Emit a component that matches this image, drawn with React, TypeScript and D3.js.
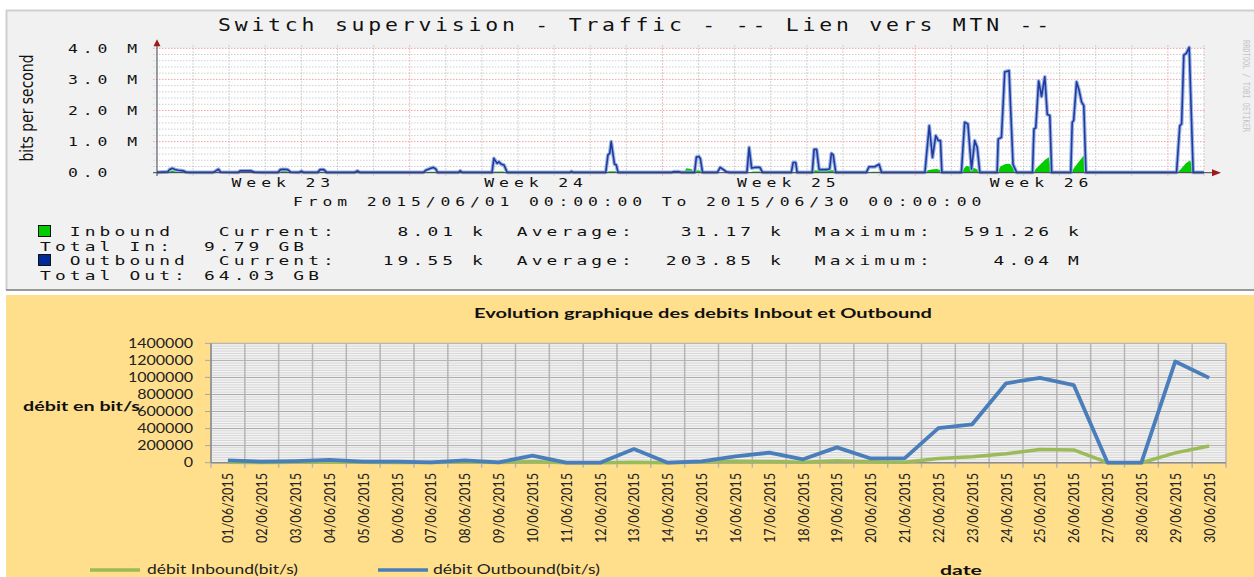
import * as d3 from "d3";

// ---------- top graph (rrdtool, bits per second over June 2015) ----------
const rrdTitle = "Switch supervision - Traffic - -- Lien vers MTN --";
const rrdPeriod = "From 2015/06/01 00:00:00 To 2015/06/30 00:00:00";
const rrdDays = 29;
const rrdYTicks = [0, 1, 2, 3, 4];
const rrdYTickLabels = ["0.0", "1.0 M", "2.0 M", "3.0 M", "4.0 M"];
const weekLabels = ["Week 23", "Week 24", "Week 25", "Week 26"];
const weekStarts = [0, 7, 14, 21];
const legendLines = [
  "  Inbound   Current:    8.01 k  Average:   31.17 k  Maximum:  591.26 k",
  "Total In:  9.79 GB",
  "  Outbound  Current:   19.55 k  Average:  203.85 k  Maximum:    4.04 M",
  "Total Out: 64.03 GB",
];

// [day since 2015/06/01, Mbit/s]
const outboundTraffic: [number, number][] = [
  [0, 0.01], [0.3, 0.03], [0.35, 0.1], [0.43, 0.14], [0.5, 0.1], [0.58, 0.08], [0.72, 0.06], [0.8, 0.02], [0.9, 0.01],
  [1.55, 0.01], [1.62, 0.05], [1.7, 0.11], [1.76, 0.02],
  [2.25, 0.01], [2.3, 0.06], [2.45, 0.06], [2.6, 0.06], [2.68, 0.02], [2.9, 0.01],
  [3.35, 0.01], [3.42, 0.1], [3.5, 0.11], [3.62, 0.1], [3.7, 0.02],
  [3.93, 0.01], [4.0, 0.05], [4.06, 0.01],
  [4.45, 0.01], [4.52, 0.1], [4.62, 0.1], [4.7, 0.01],
  [5.48, 0.01], [5.55, 0.06], [5.62, 0.01],
  [7.38, 0.01], [7.45, 0.08], [7.55, 0.13], [7.65, 0.17], [7.72, 0.12], [7.77, 0.01],
  [8.35, 0.01], [8.4, 0.06], [8.45, 0.01],
  [9.28, 0.01], [9.33, 0.46], [9.42, 0.3], [9.47, 0.35], [9.54, 0.27], [9.61, 0.25], [9.7, 0.01],
  [11.44, 0.01], [11.48, 0.04], [11.52, 0.01],
  [12.43, 0.01], [12.49, 0.57], [12.54, 0.62], [12.58, 1.0], [12.67, 0.28], [12.72, 0.25], [12.77, 0.01],
  [14.25, 0.01], [14.32, 0.03], [14.45, 0.03], [14.52, 0.01],
  [14.89, 0.01], [14.94, 0.5], [15.01, 0.52], [15.05, 0.45], [15.11, 0.01],
  [15.52, 0.01], [15.6, 0.17], [15.66, 0.12], [15.77, 0.03], [15.85, 0.01],
  [16.34, 0.01], [16.4, 0.81], [16.47, 0.15], [16.56, 0.17], [16.7, 0.17], [16.77, 0.01],
  [17.57, 0.01], [17.62, 0.33], [17.69, 0.33], [17.73, 0.01],
  [18.15, 0.01], [18.2, 0.75], [18.27, 0.75], [18.34, 0.1], [18.54, 0.1], [18.63, 0.12], [18.68, 0.62], [18.73, 0.57], [18.8, 0.01],
  [19.65, 0.01], [19.72, 0.19], [19.88, 0.19], [20.0, 0.27], [20.07, 0.01],
  [21.27, 0.01], [21.39, 1.51], [21.48, 0.49], [21.57, 1.19], [21.64, 1.03], [21.7, 1.03], [21.74, 0.01],
  [22.28, 0.01], [22.37, 1.62], [22.46, 1.57], [22.56, 0.11], [22.65, 1.03], [22.72, 0.81], [22.79, 0.01],
  [23.27, 0.01], [23.3, 1.08], [23.39, 1.14], [23.48, 3.24], [23.6, 3.28], [23.71, 0.27], [23.81, 0.01],
  [24.25, 0.01], [24.29, 1.41], [24.34, 1.44], [24.42, 2.95], [24.5, 2.45], [24.59, 3.08], [24.66, 1.87], [24.73, 1.84], [24.78, 0.01],
  [25.31, 0.01], [25.35, 1.62], [25.39, 1.68], [25.47, 2.92], [25.54, 2.65], [25.61, 2.27], [25.67, 2.16], [25.73, 0.01],
  [28.24, 0.01], [28.33, 1.51], [28.38, 1.57], [28.44, 3.78], [28.51, 3.84], [28.59, 4.03], [28.7, 0.01],
  [29, 0.01],
];

const inboundTraffic: [number, number][] = [
  [0, 0], [0.3, 0.01], [0.38, 0.07], [0.5, 0.05], [0.7, 0.03], [0.85, 0.01],
  [1.3, 0.01], [1.4, 0.04], [1.65, 0.05], [1.75, 0.01],
  [2.2, 0.01], [2.3, 0.05], [2.6, 0.05], [2.7, 0.02], [2.85, 0.04], [3.2, 0.04], [3.3, 0.02], [3.42, 0.06], [3.62, 0.06], [3.7, 0.01],
  [4.5, 0.01], [4.6, 0.04], [4.7, 0.01],
  [7.45, 0.01], [7.55, 0.03], [7.72, 0.03], [7.78, 0],
  [9.1, 0.01], [9.2, 0.04], [9.6, 0.04], [9.75, 0],
  [10.8, 0.01], [10.88, 0.03], [10.98, 0],
  [12.45, 0.01], [12.52, 0.05], [12.7, 0.05], [12.78, 0],
  [14.6, 0.01], [14.66, 0.14], [14.8, 0.12], [14.86, 0.04], [14.95, 0.08], [15.08, 0.06], [15.12, 0],
  [16.4, 0.01], [16.5, 0.04], [16.72, 0.04], [16.78, 0],
  [17.2, 0.01], [17.3, 0.03], [17.45, 0.03], [17.55, 0.01], [17.65, 0.03], [17.72, 0],
  [18.15, 0.01], [18.22, 0.08], [18.35, 0.06], [18.6, 0.08], [18.75, 0.08], [18.8, 0],
  [19.7, 0.01], [19.8, 0.03], [20.0, 0.03], [20.06, 0],
  [21.28, 0], [21.35, 0.08], [21.45, 0.1], [21.6, 0.12], [21.72, 0.08], [21.75, 0],
  [22.29, 0], [22.36, 0.15], [22.42, 0.22], [22.55, 0.18], [22.7, 0.12], [22.79, 0],
  [23.28, 0], [23.36, 0.2], [23.5, 0.28], [23.62, 0.29], [23.72, 0.15], [23.81, 0],
  [24.27, 0], [24.34, 0.12], [24.45, 0.25], [24.6, 0.42], [24.7, 0.5], [24.78, 0],
  [25.32, 0], [25.38, 0.12], [25.5, 0.3], [25.62, 0.48], [25.7, 0.59], [25.74, 0],
  [26.4, 0], [26.5, 0.02], [26.75, 0.02], [26.8, 0],
  [27.3, 0], [27.38, 0.02], [27.48, 0.02], [27.52, 0],
  [28.25, 0], [28.35, 0.1], [28.5, 0.3], [28.62, 0.4], [28.7, 0],
  [29, 0],
];

// ---------- bottom graph (excel, daily debits) ----------
const excelTitle = "Evolution graphique des debits Inbout et Outbound";
const dateLabels = [
  "01/06/2015", "02/06/2015", "03/06/2015", "04/06/2015", "05/06/2015", "06/06/2015",
  "07/06/2015", "08/06/2015", "09/06/2015", "10/06/2015", "11/06/2015", "12/06/2015",
  "13/06/2015", "14/06/2015", "15/06/2015", "16/06/2015", "17/06/2015", "18/06/2015",
  "19/06/2015", "20/06/2015", "21/06/2015", "22/06/2015", "23/06/2015", "24/06/2015",
  "25/06/2015", "26/06/2015", "27/06/2015", "28/06/2015", "29/06/2015", "30/06/2015",
];
const inboundDaily = [
  5000, 3000, 5000, 8000, 4000, 3000, 2000, 8000, 2000, 15000, 0, 0, 5000, 0, 8000,
  18000, 14000, 5000, 22000, 12000, 4000, 50000, 70000, 105000, 155000, 150000, 0, 0, 115000, 195000,
];
const outboundDaily = [
  28000, 12000, 18000, 32000, 12000, 12000, 4000, 28000, 4000, 82000, 0, 0, 160000, 0, 16000,
  75000, 117000, 40000, 180000, 50000, 50000, 405000, 450000, 931000, 995000, 910000, 0, 0, 1187000, 995000,
];
const excelYTicks = [0, 200000, 400000, 600000, 800000, 1000000, 1200000, 1400000];

const MONO = "'DejaVu Sans Mono', monospace";
const SANS = "Lato, 'Open Sans', sans-serif";

function Mono({ x, y, text, pitch = 14.8, size = 12, anchor = "start", fill = "#111", ls = 3.6 }: any) {
  return (
    <text x={x} y={y} fontFamily={MONO} fontSize={size} letterSpacing={ls}
      textLength={text.length * pitch} lengthAdjust="spacingAndGlyphs"
      textAnchor={anchor} fill={fill} style={{ whiteSpace: "pre" }}>{text}</text>
  );
}

export default function App() {
  // rrd scales
  const rx = d3.scaleLinear().domain([0, rrdDays]).range([157, 1204]);
  const ry = d3.scaleLinear().domain([0, 4]).range([172.7, 48.3]);
  const minorY = d3.range(0.2, 4.01, 0.2).filter(v => Math.abs(v - Math.round(v)) > 0.01);
  const dayLines = d3.range(1, rrdDays + 1).filter(d => d % 7 !== 0);
  const weekLines = [7, 14, 21, 28];

  const outLine = d3.line<[number, number]>().x(d => rx(d[0])).y(d => ry(d[1]));
  const inArea = d3.area<[number, number]>().x(d => rx(d[0])).y0(ry(0)).y1(d => ry(d[1]));

  // excel scales
  const ex = d3.scaleBand<string>().domain(dateLabels).range([211, 1226]);
  const ey = d3.scaleLinear().domain([0, 1400000]).range([462.7, 343.3]);
  const cx = (i: number) => (ex(dateLabels[i]) as number) + ex.bandwidth() / 2;
  const minorEy = d3.range(20000, 1400000, 20000).filter(v => v % 200000 !== 0);
  const lineGen = d3.line<number>().x((_, i) => cx(i)).y(d => ey(d));
  const bounds = dateLabels.map(d => ex(d) as number).concat([1226]);

  return (
    <svg width={1254} height={577} style={{ position: "absolute", left: 0, top: 0, background: "#fff" }}>
      {/* ===== rrd panel ===== */}
      <rect x={6} y={10} width={1252} height={280} fill="#F1F1F1" />
      <line x1={6} x2={1254} y1={10.5} y2={10.5} stroke="#CFCFCF" strokeWidth={2} />
      <line x1={6.5} x2={6.5} y1={10} y2={290} stroke="#CFCFCF" strokeWidth={2} />
      <line x1={6} x2={1254} y1={290} y2={290} stroke="#9A9A9A" strokeWidth={2} />

      <Mono x={218} y={31} text={rrdTitle} pitch={16.7} size={17} ls={3} fill="#111" />

      <rect x={rx(0)} y={ry(4)} width={rx(rrdDays) - rx(0)} height={ry(0) - ry(4)} fill="#fff" />

      {minorY.map(v => (
        <line key={"my" + v} x1={153} x2={rx(rrdDays) + 2} y1={ry(v)} y2={ry(v)}
          stroke="#CFCFCF" strokeDasharray="1.5 1.5" strokeWidth={1} />
      ))}
      {dayLines.map(d => (
        <line key={"dl" + d} x1={rx(d)} x2={rx(d)} y1={ry(4) - 3} y2={ry(0) + 3}
          stroke="#C4C4C4" strokeDasharray="1.5 1.5" strokeWidth={1} />
      ))}
      {rrdYTicks.filter(v => v > 0).map(v => (
        <line key={"My" + v} x1={153} x2={rx(rrdDays) + 2} y1={ry(v)} y2={ry(v)}
          stroke="#F2A3A3" strokeDasharray="1.5 1.5" strokeWidth={1} />
      ))}
      {weekLines.map(d => (
        <line key={"wl" + d} x1={rx(d)} x2={rx(d)} y1={ry(4) - 3} y2={ry(0) + 3}
          stroke="#F2A3A3" strokeDasharray="1.5 1.5" strokeWidth={1} />
      ))}

      <path d={inArea(inboundTraffic) as string} fill="#00CC00" />
      <path d={outLine(outboundTraffic) as string} fill="none" stroke="#9DB1E6" strokeWidth={3.8} strokeLinejoin="round" />
      <path d={outLine(outboundTraffic) as string} fill="none" stroke="#1E3C9C" strokeWidth={1.6} strokeLinejoin="round" />

      {/* axes + arrows */}
      <line x1={153} x2={1214} y1={ry(0)} y2={ry(0)} stroke="#404050" strokeWidth={1} />
      <line x1={rx(0)} x2={rx(0)} y1={176} y2={ry(4) - 4} stroke="#404050" strokeWidth={1} />
      <path d={`M${1212},${ry(0) - 3.5}L${1221},${ry(0)}L${1212},${ry(0) + 3.5}Z`} fill="#A01818" />
      <path d={`M${rx(0) - 3.5},${ry(4) - 2}L${rx(0)},${ry(4) - 9}L${rx(0) + 3.5},${ry(4) - 2}Z`} fill="#A01818" />

      {rrdYTicks.map((v, i) => (
        <Mono key={"yt" + v} x={68} y={ry(v) + 4.4} text={rrdYTickLabels[i]} />
      ))}
      {weekLabels.map((w, i) => (
        <Mono key={w} x={rx(weekStarts[i] + 3.5)} y={187} text={w} anchor="middle" />
      ))}
      <Mono x={293} y={206} text={rrdPeriod} pitch={14.75} />

      <text transform="translate(33,108) scale(1.35,1) rotate(-90)" textAnchor="middle"
        fontFamily="'DejaVu Sans', sans-serif" fontStretch="condensed" fontSize={12.5}
        textLength={107} lengthAdjust="spacingAndGlyphs" fill="#111">bits per second</text>

      <text transform="translate(1243,40) rotate(90)" fontFamily={MONO} fontSize={9}
        textLength={92} lengthAdjust="spacingAndGlyphs" fill="#C4C4C4">RRDTOOL / TOBI OETIKER</text>

      {/* legend */}
      <rect x={38.5} y={225.5} width={12} height={11} fill="#00CC00" stroke="#111" />
      <rect x={38.5} y={254.5} width={12} height={11} fill="#002A97" stroke="#111" />
      {legendLines.map((t, i) => (
        <Mono key={"lg" + i} x={40} y={236 + i * 14.5} text={t} pitch={14.9} size={13} ls={3} />
      ))}

      {/* ===== excel panel ===== */}
      <rect x={6} y={295} width={1248} height={282} fill="#FFDF8C" />

      <text x={474} y={318} fontFamily={SANS} fontWeight={700} fontSize={13}
        textLength={458} lengthAdjust="spacingAndGlyphs" fill="#111">{excelTitle}</text>

      <rect x={211} y={ey(1400000)} width={1226 - 211} height={ey(0) - ey(1400000)} fill="#fff" />
      {minorEy.map(v => (
        <line key={"em" + v} x1={211} x2={1226} y1={ey(v)} y2={ey(v)} stroke="#D6D6D6" strokeWidth={1} />
      ))}
      {excelYTicks.map(v => (
        <line key={"eM" + v} x1={205} x2={1226} y1={ey(v)} y2={ey(v)} stroke="#A8A8A8" strokeWidth={1} />
      ))}
      {bounds.map((b, i) => (
        <line key={"eb" + i} x1={b} x2={b} y1={ey(1400000)} y2={ey(0) + 5}
          stroke="#B4B4B4" strokeWidth={1.5} />
      ))}
      <line x1={211} x2={211} y1={ey(1400000)} y2={ey(0)} stroke="#8C8C8C" strokeWidth={1.5} />
      <line x1={211} x2={1226} y1={ey(0)} y2={ey(0)} stroke="#8C8C8C" strokeWidth={1.5} />

      <path d={lineGen(inboundDaily) as string} fill="none" stroke="#9BBB59" strokeWidth={3.5} strokeLinejoin="round" />
      <path d={lineGen(outboundDaily) as string} fill="none" stroke="#4A7EBB" strokeWidth={3.8} strokeLinejoin="round" />

      {excelYTicks.map(v => (
        <text key={"ey" + v} x={193} y={ey(v) + 4.5} textAnchor="end" fontFamily={SANS} fontSize={12.5}
          textLength={String(v).length * 9.3} lengthAdjust="spacingAndGlyphs" fill="#222">{String(v)}</text>
      ))}
      {dateLabels.map((d, i) => (
        <text key={d} transform={`translate(${cx(i)},473) scale(1.3,1) rotate(-90)`} textAnchor="end"
          dy="0.35em" fontFamily={SANS} fontSize={12} textLength={70} lengthAdjust="spacingAndGlyphs"
          fill="#222">{d}</text>
      ))}

      <text x={23} y={411} fontFamily={SANS} fontWeight={700} fontSize={14}
        textLength={117} lengthAdjust="spacingAndGlyphs" fill="#111">débit en bit/s</text>
      <text x={940} y={575} fontFamily={SANS} fontWeight={700} fontSize={13}
        textLength={42} lengthAdjust="spacingAndGlyphs" fill="#111">date</text>

      <line x1={90} x2={140} y1={570} y2={570} stroke="#9BBB59" strokeWidth={3.5} />
      <text x={147} y={574} fontFamily={SANS} fontSize={12.5} textLength={151}
        lengthAdjust="spacingAndGlyphs" fill="#222">débit Inbound(bit/s)</text>
      <line x1={378} x2={428} y1={570} y2={570} stroke="#4A7EBB" strokeWidth={3.5} />
      <text x={433} y={574} fontFamily={SANS} fontSize={12.5} textLength={167}
        lengthAdjust="spacingAndGlyphs" fill="#222">débit Outbound(bit/s)</text>
    </svg>
  );
}
